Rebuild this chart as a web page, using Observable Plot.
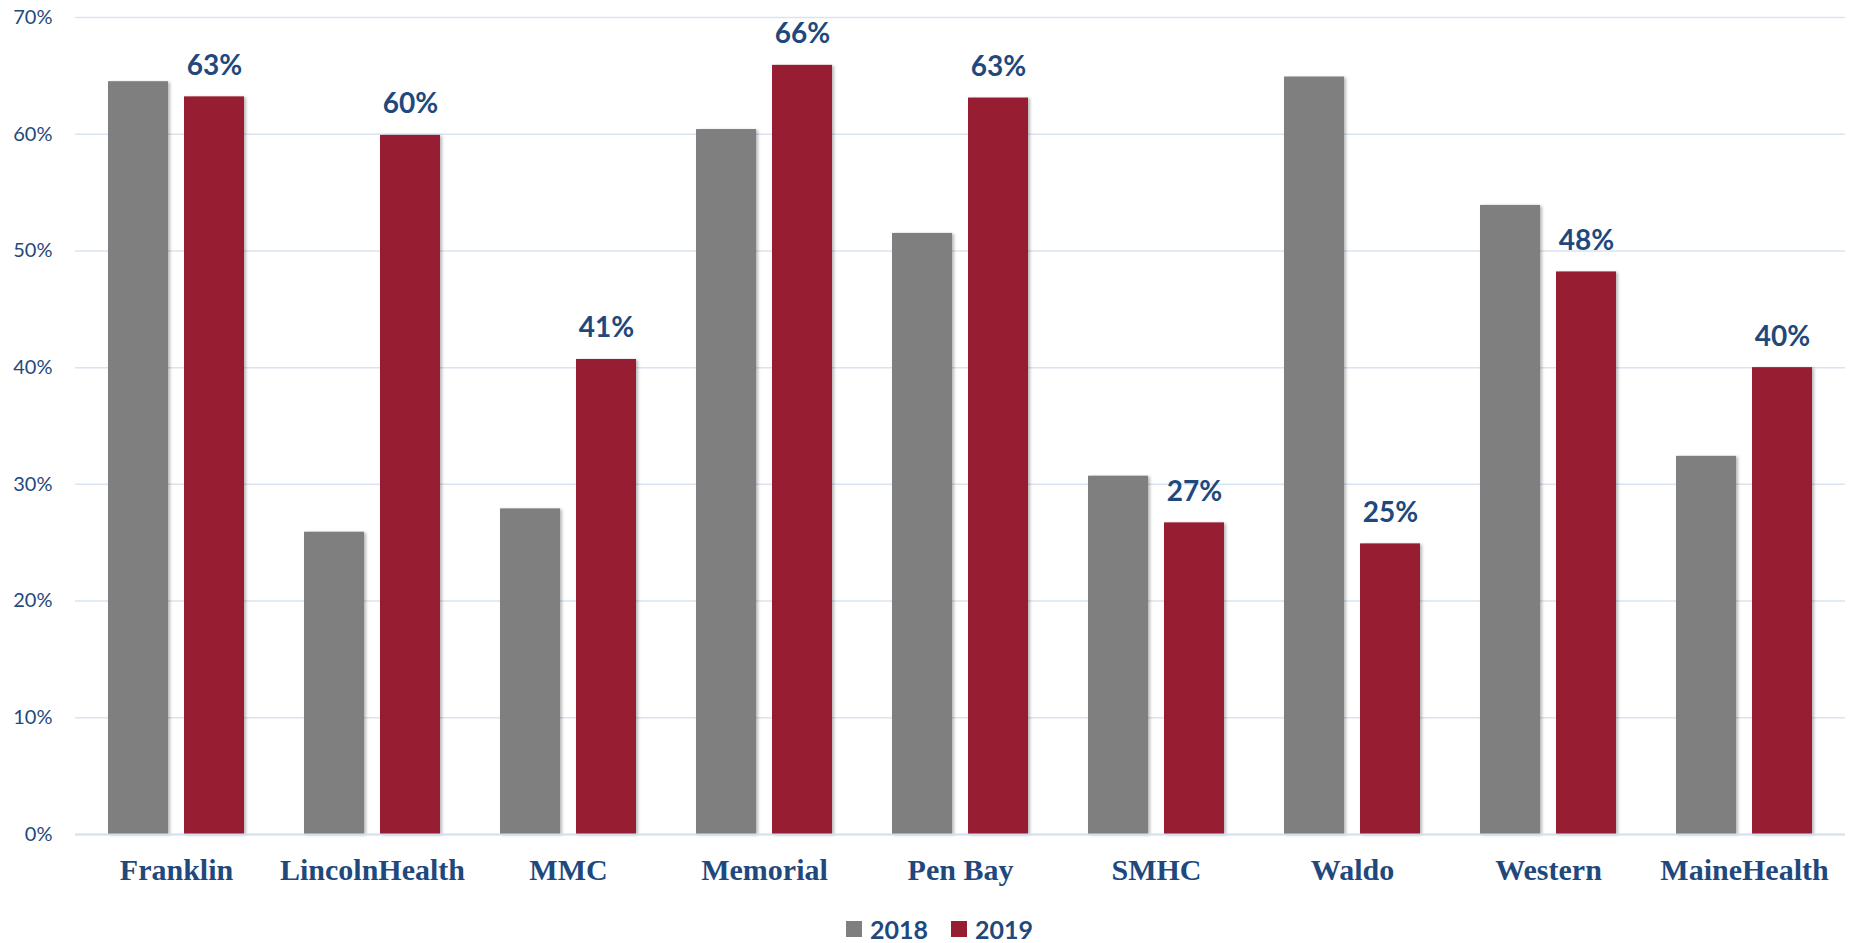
<!DOCTYPE html>
<html>
<head>
<meta charset="utf-8">
<script src="https://cdn.jsdelivr.net/npm/d3@7"></script>
<script src="https://cdn.jsdelivr.net/npm/@observablehq/plot@0.6"></script>
<style>
  html, body { margin: 0; padding: 0; background: #fff; }
  #chart svg { display: block; }
  #legend {
    height: 47px; box-sizing: border-box; padding-top: 19px; padding-left: 846px;
    display: flex; align-items: center;
    font-family: Lato, sans-serif; font-weight: bold; font-size: 25px; color: #1f497d;
  }
  #legend .item { display: flex; align-items: center; margin-right: 23px; }
  #legend .sw { width: 16px; height: 16px; margin-right: 8px; }
</style>
</head>
<body>
<div id="chart"></div>
<div id="legend"></div>
<script>
const categories = ["Franklin", "LincolnHealth", "MMC", "Memorial", "Pen Bay", "SMHC", "Waldo", "Western", "MaineHealth"];
const series = ["2018", "2019"];
const values2018 = [64.5, 25.9, 27.9, 60.4, 51.5, 30.7, 64.9, 53.9, 32.4];
const values2019 = [63.2, 59.9, 40.7, 65.9, 63.1, 26.7, 24.9, 48.2, 40.0];
const yTicks = [0, 10, 20, 30, 40, 50, 60, 70];

const colors = {"2018": "#7f7f7f", "2019": "#971e32"};
const blue = "#1f497d";

const data2018 = categories.map((c, i) => ({category: c, value: values2018[i]}));
const data2019 = categories.map((c, i) => ({category: c, value: values2019[i]}));

const chart = Plot.plot({
  width: 1852,
  height: 896,
  marginTop: 17,
  marginBottom: 62,
  marginLeft: 75,
  marginRight: 7,
  style: {background: "#fff", color: blue},
  x: {domain: categories, padding: 0},
  y: {domain: [0, 70]},
  marks: [
    Plot.gridY(yTicks.filter(d => d > 0), {stroke: "#d9e3f1", strokeOpacity: 1, strokeWidth: 1.5}),
    Plot.barY(data2018, {x: "category", y: "value", fill: colors["2018"], insetLeft: 30, insetRight: 106}),
    Plot.barY(data2019, {x: "category", y: "value", fill: colors["2019"], insetLeft: 106, insetRight: 30}),
    Plot.ruleY([0], {stroke: "#d3deee", strokeWidth: 2}),
    Plot.text(data2019, {
      x: "category", y: "value", text: d => Math.round(d.value) + "%",
      dx: 38, dy: -31, lineAnchor: "middle",
      fontFamily: "Lato", fontWeight: "bold", fontSize: 28, fill: blue
    }),
    Plot.axisY(yTicks, {
      tickSize: 0, tickPadding: 23, tickFormat: d => d + "%",
      fontFamily: "Lato", fontSize: 20, fill: blue, label: null
    }),
    Plot.axisX({
      tickSize: 0, tickPadding: 24, label: null,
      fontFamily: "Liberation Serif", fontWeight: "bold", fontSize: 30, fill: blue
    })
  ]
});

chart.querySelectorAll('g[aria-label="bar"]').forEach(g => {
  g.style.filter = "drop-shadow(2px 1px 1.5px rgba(0,0,0,0.28))";
});

document.getElementById("chart").appendChild(chart);

const legend = document.getElementById("legend");
series.forEach(s => {
  const item = document.createElement("div");
  item.className = "item";
  const sw = document.createElement("div");
  sw.className = "sw";
  sw.style.background = colors[s];
  const label = document.createElement("span");
  label.textContent = s;
  item.appendChild(sw);
  item.appendChild(label);
  legend.appendChild(item);
});
</script>
</body>
</html>
